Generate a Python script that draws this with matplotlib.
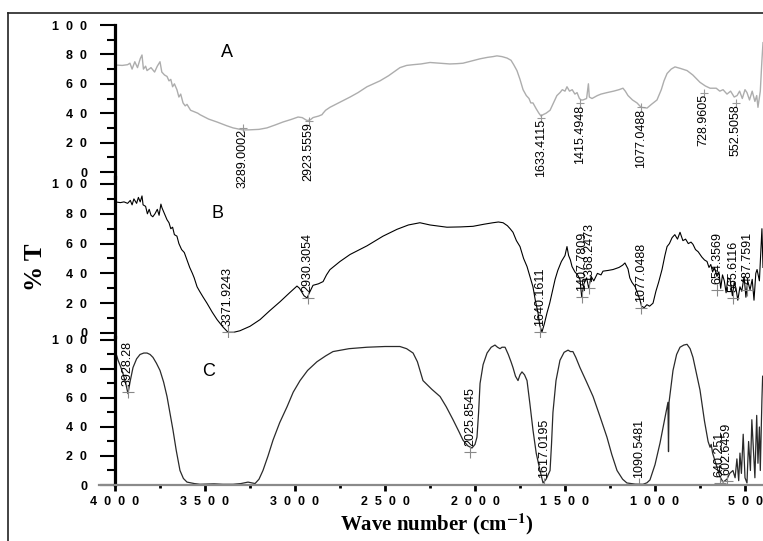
import matplotlib
matplotlib.use('Agg')
import matplotlib.pyplot as plt
from matplotlib.lines import Line2D
from matplotlib.ticker import FixedLocator, FuncFormatter

plt.rcParams['mathtext.fontset'] = 'stix'

# spectrum A (grey)
wn_a = [4000, 3960, 3930, 3917, 3905, 3890, 3875, 3860, 3850, 3842, 3830, 3822, 3800, 3780,
        3765, 3750, 3740, 3725, 3711, 3700, 3690, 3680, 3670, 3656, 3645, 3635, 3622, 3610,
        3600, 3580, 3560, 3540, 3528, 3480, 3433, 3380, 3344, 3289, 3250, 3200, 3156, 3110,
        3067, 3020, 2983, 2960, 2933, 2915, 2900, 2889, 2870, 2850, 2844, 2830, 2806, 2750,
        2694, 2650, 2600, 2528, 2480, 2417, 2380, 2344, 2300, 2250, 2194, 2140, 2100, 2067,
        2020, 1972, 1930, 1900, 1878, 1850, 1822, 1800, 1785, 1767, 1750, 1733, 1715, 1700,
        1690, 1678, 1660, 1645, 1633, 1622, 1605, 1583, 1560, 1545, 1528, 1515, 1500, 1489,
        1475, 1460, 1445, 1433, 1420, 1410, 1400, 1380, 1370, 1365, 1350, 1320, 1300, 1267,
        1230, 1200, 1178, 1165, 1150, 1125, 1100, 1077, 1044, 1020, 989, 965, 950, 933, 910,
        889, 860, 822, 790, 750, 720, 694, 660, 640, 622, 600, 580, 560, 544, 530, 515, 500,
        489, 475, 460, 445, 435, 428, 415, 406, 400]
t_a = [72.8, 72.5, 73, 74, 70, 75, 71, 77, 79.6, 70, 72, 69, 71, 68,
       72, 75, 68, 66, 65, 62, 63, 58, 60, 56, 51, 53, 47, 45,
       46, 42, 41, 40, 39, 36, 34, 31.5, 30, 28.6, 28.7, 29, 30, 32,
       34, 35.8, 37.4, 37, 35, 35.5, 37, 37.4, 38, 39, 40, 42, 44, 47.5,
       51, 54, 58, 62, 65.5, 71, 72.5, 73, 73.5, 74.5, 74, 73.5, 73.7, 74,
       75.5, 77, 78, 78.5, 79, 78.5, 77.5, 76, 73, 69, 63, 56, 52, 50,
       47, 47, 43, 40, 38, 39, 40, 42, 48, 52, 54, 56, 55, 58,
       55, 56, 53, 54, 50, 49, 49, 50, 60, 51, 50, 52, 53, 54,
       55, 56, 57, 55, 52, 49, 47, 44, 43.5, 46, 49, 56, 62, 67, 70,
       71.5, 70.5, 69, 66, 61, 58.5, 57, 57, 55, 56, 53, 55, 51, 52, 55, 50, 56,
       54, 49, 55, 48, 52, 44, 55, 76, 88]

# spectrum B (black)
wn_b = [4000, 3970, 3950, 3930, 3915, 3905, 3895, 3880, 3870, 3860, 3850, 3844, 3830, 3820,
        3810, 3800, 3790, 3778, 3765, 3755, 3745, 3739, 3725, 3711, 3700, 3690, 3680, 3670,
        3656, 3645, 3630, 3615, 3600, 3585, 3570, 3560, 3544, 3530, 3510, 3489, 3460, 3433,
        3400, 3372, 3340, 3306, 3250, 3194, 3140, 3083, 3030, 2989, 2975, 2950, 2933, 2920,
        2900, 2870, 2844, 2825, 2806, 2750, 2694, 2600, 2511, 2433, 2370, 2306, 2250, 2200,
        2156, 2080, 2011, 1950, 1900, 1870, 1844, 1820, 1805, 1789, 1770, 1750, 1730, 1711,
        1695, 1678, 1665, 1650, 1640, 1628, 1615, 1600, 1585, 1570, 1555, 1540, 1520, 1500,
        1489, 1480, 1470, 1461, 1445, 1430, 1417, 1407, 1395, 1380, 1368, 1355, 1340, 1320,
        1300, 1289, 1260, 1233, 1200, 1180, 1167, 1150, 1140, 1128, 1110, 1095, 1083, 1075,
        1060, 1045, 1030, 1011, 995, 980, 961, 945, 933, 920, 905, 890, 875, 861, 845, 830,
        815, 800, 789, 775, 760, 740, 725, 711, 700, 690, 680, 670, 656, 645, 635, 625, 615,
        605, 595, 583, 570, 560, 550, 540, 528, 518, 505, 495, 485, 472, 460, 450, 440, 433,
        420, 410, 406, 400]
t_b = [88, 87.5, 88, 87, 89, 86, 90, 87, 91, 88, 92, 86, 85, 80,
       83, 79, 78, 80, 83, 79, 86.5, 84, 80, 76, 74, 70, 71, 66,
       65, 60, 56, 54, 49, 44, 40, 37, 31, 28, 24, 20, 14, 9,
       4, 0.5, 0.5, 1.5, 4.5, 9, 15, 21, 27, 31.5, 30, 25, 23.5, 27,
       32, 33, 34.5, 39, 42.5, 48, 52.7, 58.5, 65, 69.6, 72.5, 74, 72.5, 71.7,
       71, 71.2, 71.6, 73, 74, 74.5, 74, 72, 70, 67.6, 62, 58, 50, 44.6,
       38, 31, 22, 13.5, 5, 0.7, 6, 13.5, 20, 28, 36, 42, 48, 52,
       58, 52, 49, 44.6, 41, 39, 36, 24, 33, 37, 30, 38, 35, 40,
       39, 41.5, 42, 42.6, 44, 45.5, 47, 43, 37, 34, 31, 26, 22, 18,
       17, 19, 18, 20, 28, 34, 42.6, 52, 58, 60, 64, 66, 63, 67.6, 62, 63,
       60, 61, 59.5, 56, 54.5, 51, 49, 48, 44, 46, 41, 44, 38, 41, 30, 39, 35,
       27, 37, 36, 25, 34, 30, 22, 31, 28, 38, 24, 35, 29, 36, 22, 40, 42.6,
       35, 60, 70, 44]

# spectrum C (dark)
wn_c = [4000, 3990, 3983, 3970, 3956, 3940, 3928, 3915, 3900, 3880, 3861, 3840, 3822, 3805,
        3789, 3770, 3750, 3730, 3711, 3695, 3678, 3660, 3639, 3620, 3600, 3560, 3528, 3450,
        3400, 3344, 3300, 3261, 3240, 3222, 3200, 3178, 3150, 3122, 3085, 3044, 3010, 2972,
        2930, 2878, 2830, 2789, 2700, 2600, 2500, 2417, 2380, 2344, 2320, 2289, 2240, 2194,
        2160, 2122, 2090, 2067, 2040, 2017, 2000, 1989, 1980, 1972, 1955, 1933, 1910, 1889,
        1875, 1861, 1850, 1833, 1815, 1800, 1789, 1775, 1761, 1750, 1739, 1725, 1711, 1695,
        1678, 1660, 1639, 1622, 1605, 1590, 1583, 1575, 1567, 1550, 1528, 1505, 1483, 1470,
        1456, 1440, 1417, 1380, 1344, 1305, 1267, 1240, 1211, 1180, 1156, 1110, 1067, 1045,
        1028, 1000, 972, 950, 933, 928, 925, 922, 900, 880, 861, 840, 822, 805, 789, 770,
        750, 725, 705, 694, 688, 680, 656, 640, 622, 600, 585, 567, 555, 545, 535, 528,
        520, 510, 500, 489, 480, 470, 462, 456, 445, 435, 428, 420, 415, 406, 402]
t_c = [92, 89, 86, 82, 77, 70, 63, 72, 81, 87, 90, 91, 91, 90,
       88, 84, 79, 71, 61, 50, 38, 24, 10, 4.5, 2, 1, 0.5, 0.8,
       0.5, 0.5, 1.0, 2, 1.5, 1, 4, 10, 20, 31, 43, 54, 64, 72,
       79, 85, 89, 92, 94, 95, 95.5, 95.5, 94, 91, 85, 72, 66, 61,
       54, 45, 37, 31, 27, 25.5, 28, 33, 50, 70, 83, 91, 95, 96.5,
       95, 94, 95, 95, 90, 85, 81, 75, 72, 76, 78, 76, 72, 56,
       38, 22, 10, 1.4, 4, 8, 10, 28, 50, 72, 86, 91.5, 93, 92,
       92, 88, 81, 71, 61, 47, 33, 21, 10, 4, 1.4, 0.6, 0.5, 1.5,
       3.5, 14, 29, 43, 54, 57, 23, 57, 79, 90, 95, 96.5, 97, 94, 88, 77,
       65.5, 44, 30, 26, 28, 22, 12.4, 6, 2, 4, 8, 10, 5, 18, 3, 22,
       8, 35, 5, 1.4, 30, 10, 45, 31, 5, 48, 15, 40, 10, 59, 75]

# marked peaks: wavenumber, %T at the mark, printed label
peaks_a = [3289.0002, 2923.5559, 1633.4115, 1415.4948, 1077.0488, 728.9605, 552.5058]
peak_t_a = [30, 35, 37, 47, 44, 54, 47]
labels_a = ['3289.0002', '2923.5559', '1633.4115', '1415.4948', '1077.0488', '728.9605', '552.5058']

peaks_b = [3371.9243, 2930.3054, 1640.1611, 1407.7809, 1368.2473, 1077.0488, 654.3569, 565.6116, 487.7591]
peak_t_b = [0.5, 23.5, 0.7, 24, 30, 17, 29, 23.5, 29]
labels_b = ['3371.9243', '2930.3054', '1640.1611', '1407.7809', '1368.2473', '1077.0488',
            '654.3569', '565.6116', '487.7591']

peaks_c = [3928.28, 2025.8545, 1617.0195, 1090.5481, 640.251, 602.6459]
peak_t_c = [64, 23, 0.7, 0.7, 1.4, 3]
labels_c = ['3928.28', '2025.8545', '1617.0195', '1090.5481', '640.251', '602.6459']

W, H = 763, 541
fig = plt.figure(figsize=(W / 100, H / 100), dpi=100)


def make_axes(top, bottom, ylim):
    ax = fig.add_axes([115 / W, 1 - bottom / H, 1 - 115 / W, (bottom - top) / H])
    ax.set_xlim(4000, 400)
    ax.set_ylim(*ylim)
    ax.patch.set_alpha(0)
    for s in ['top', 'right', 'bottom']:
        ax.spines[s].set_visible(False)
    ax.spines['left'].set_linewidth(2.3)
    ax.yaxis.set_major_locator(FixedLocator([0, 20, 40, 60, 80, 100]))
    ax.yaxis.set_minor_locator(FixedLocator([10, 30, 50, 70, 90]))
    ax.yaxis.set_major_formatter(FuncFormatter(lambda v, p: '  '.join(str(int(v)))))
    ax.tick_params(axis='y', which='major', length=11, width=1.5, pad=9, labelsize=9)
    ax.tick_params(axis='y', which='minor', length=6, width=1.5)
    for lab in ax.get_yticklabels():
        lab.set_fontweight('bold')
        lab.set_fontfamily('Liberation Sans')
    ax.set_xticks([])
    return ax


ax_a = make_axes(25, 177.5, (-3.74, 100))
ax_b = make_axes(177.5, 336.5, (-2.35, 104.36))
ax_c = make_axes(336.5, 485, (0, 102.4))

ax_a.plot(wn_a, t_a, color='#adadad', lw=1.0)
ax_b.plot(wn_b, t_b, color='black', lw=0.8)
ax_c.plot(wn_c, t_c, color='#2a2a2a', lw=0.9)

# peak marks and labels
lab_font = dict(fontsize=9, fontfamily='Liberation Sans', rotation=90, ha='center')
for x, y, s in zip(peaks_a, peak_t_a, labels_a):
    ax_a.plot(x, y, '+', color='#999999', ms=6, mew=0.8)
    ax_a.text(x, y - 1, s, va='top', clip_on=False, **lab_font)
for x, y, s in zip(peaks_b, peak_t_b, labels_b):
    ax_b.plot(x, y, '+', color='#888888', ms=9, mew=0.8)
    ax_b.text(x, y + 4, s, va='bottom', clip_on=False, **lab_font)
for x, y, s in zip(peaks_c, peak_t_c, labels_c):
    ax_c.plot(x, y, '+', color='#888888', ms=9, mew=0.8)
    ax_c.text(x, y + 4, s, va='bottom', clip_on=False, **lab_font)

# panel letters
ax_a.text(3378, 81.6, 'A', fontsize=13, fontfamily='Liberation Sans', ha='center', va='center')
ax_b.text(3428, 80.5, 'B', fontsize=13, fontfamily='Liberation Sans', ha='center', va='center')
ax_c.text(3478, 78.6, 'C', fontsize=13, fontfamily='Liberation Sans', ha='center', va='center')

# x axis on the bottom panel
ax_c.spines['bottom'].set_visible(True)
ax_c.spines['bottom'].set_color('#8a8a8a')
ax_c.spines['bottom'].set_linewidth(1.6)
ax_c.plot([-0.025, 0], [0, 0], color='#8a8a8a', lw=1.6, transform=ax_c.transAxes, clip_on=False)
ax_c.set_xticks([4000, 3500, 3000, 2500, 2000, 1500, 1000, 500])
ax_c.set_xticks([3750, 3250, 2750, 2250, 1750, 1250, 750], minor=True)
ax_c.set_xticklabels(['  '.join(str(v)) for v in [4000, 3500, 3000, 2500, 2000, 1500, 1000, 500]],
                     fontweight='bold', fontfamily='Liberation Sans', fontsize=9)
ax_c.tick_params(axis='x', which='major', length=4, width=2, pad=4, direction='out')
ax_c.tick_params(axis='x', which='minor', length=2, width=2, direction='out')

fig.text(437 / W, 1 - 524 / H, r'Wave number (cm$^{\mathbf{-1}}$)', fontsize=15,
         fontweight='bold', fontfamily='Liberation Serif', ha='center', va='center')
fig.text(35 / W, 1 - 267 / H, '% T', fontsize=18, fontweight='bold',
         fontfamily='Liberation Serif', rotation=90, ha='center', va='center')

# outer frame
fig.add_artist(Line2D([8 / W, 8 / W], [0, 1 - 13 / H], color='#222222', lw=1.2))
fig.add_artist(Line2D([8 / W, 1], [1 - 13 / H, 1 - 13 / H], color='#222222', lw=1.2))

fig.savefig('out.png', dpi=100)
